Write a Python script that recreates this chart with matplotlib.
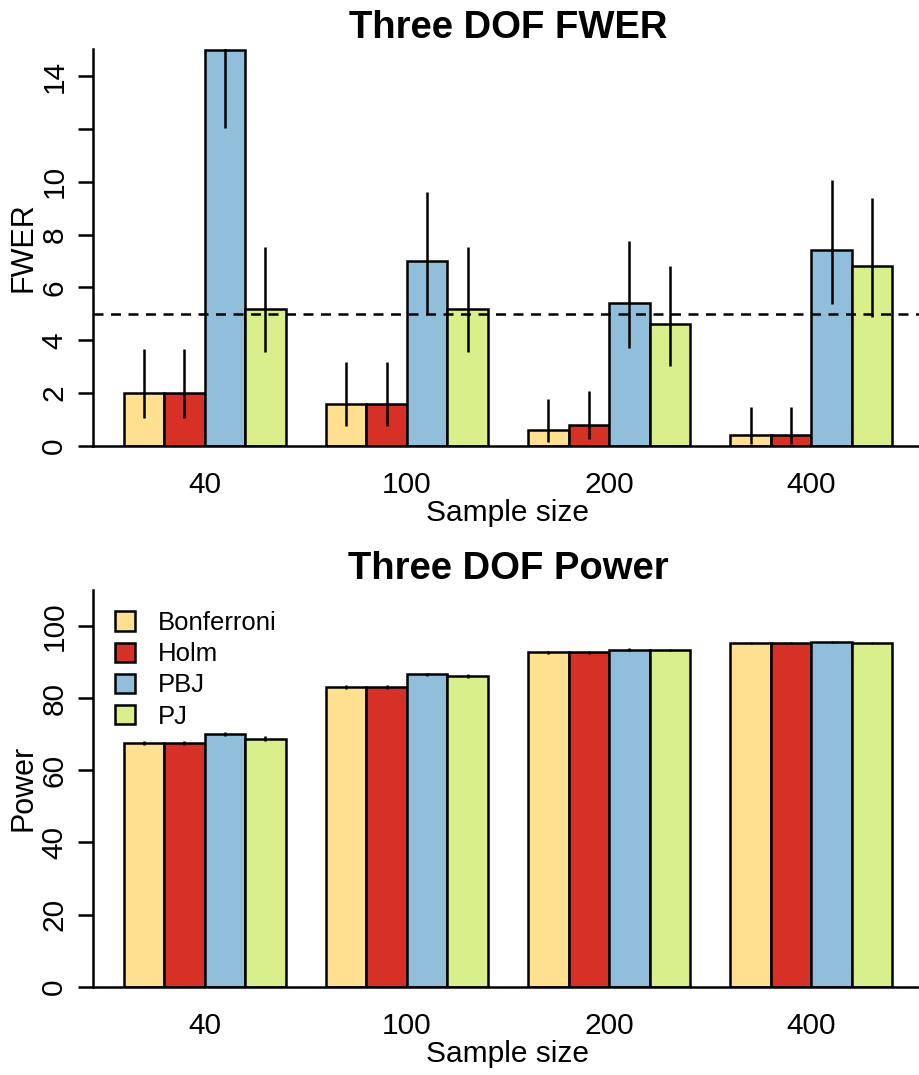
import matplotlib
matplotlib.use("Agg")
import matplotlib.pyplot as plt
from matplotlib.patches import Patch
import numpy as np

plt.rcParams["font.family"] = ["Liberation Sans", "DejaVu Sans"]

# data
sample_sizes = ["40", "100", "200", "400"]
methods = ["Bonferroni", "Holm", "PBJ", "PJ"]
colors = ["#FEE090", "#D73027", "#91BFDB", "#D9EF8B"]

# FWER (%) with confidence interval ends
fwer = {
    "Bonferroni": [2.0, 1.6, 0.6, 0.4],
    "Holm": [2.0, 1.6, 0.8, 0.4],
    "PBJ": [15.0, 7.0, 5.4, 7.4],
    "PJ": [5.2, 5.2, 4.6, 6.8],
}
fwer_lo = {
    "Bonferroni": [1.07, 0.77, 0.16, 0.08],
    "Holm": [1.07, 0.77, 0.26, 0.08],
    "PBJ": [12.05, 4.99, 3.70, 5.37],
    "PJ": [3.54, 3.54, 3.04, 4.87],
}
fwer_hi = {
    "Bonferroni": [3.67, 3.17, 1.78, 1.46],
    "Holm": [3.67, 3.17, 2.07, 1.46],
    "PBJ": [18.4, 9.60, 7.77, 10.05],
    "PJ": [7.53, 7.53, 6.82, 9.37],
}

# Power (%) with small error
power = {
    "Bonferroni": [67.6, 83.1, 92.7, 95.2],
    "Holm": [67.6, 83.1, 92.7, 95.2],
    "PBJ": [70.0, 86.6, 93.5, 95.5],
    "PJ": [68.8, 86.2, 93.3, 95.4],
}
power_err = [0.6, 0.5, 0.35, 0.25]

W, H = 919, 1075
LW = 1.8


def draw_panel(ax, values, lo, hi, ylim, yticks, ylabels, title, ylabel):
    for j, m in enumerate(methods):
        x = np.arange(4) * 5 + j
        ax.bar(x, values[m], width=1, align="edge", color=colors[j],
               edgecolor="black", linewidth=LW, zorder=2)
        ax.vlines(x + 0.5, lo[m], hi[m], color="black", linewidth=LW, zorder=3)
    ax.set_xlim(-0.76, 19.76)
    ax.set_ylim(*ylim)
    ax.spines["top"].set_visible(False)
    ax.spines["right"].set_visible(False)
    ax.spines["left"].set_linewidth(LW)
    ax.spines["bottom"].set_linewidth(LW)
    ax.set_yticks(yticks)
    ax.set_yticklabels(ylabels, rotation=90, va="center", fontsize=21.5)
    ax.tick_params(axis="y", length=10.8, width=LW, pad=7)
    ax.set_xticks(np.arange(4) * 5 + 2)
    ax.set_xticklabels(sample_sizes, fontsize=21.5)
    ax.tick_params(axis="x", length=0, pad=18)
    ax.set_xlabel("Sample size", fontsize=21.5, labelpad=0)
    ax.set_ylabel(ylabel, fontsize=22, labelpad=1)
    ax.set_title(title, fontsize=27.5, fontweight="bold", pad=8)


fig = plt.figure(figsize=(W / 100, H / 100), dpi=100)

ax1 = fig.add_axes([93 / W, (H - 446) / H, 830 / W, 397 / H])
draw_panel(ax1, fwer, fwer_lo, fwer_hi, (0, 15.02),
           [0, 2, 4, 6, 8, 10, 12, 14],
           ["0", "2", "4", "6", "8", "10", "", "14"],
           "Three DOF FWER", "FWER")
ax1.axhline(5, color="black", linewidth=LW, linestyle=(0, (4, 3)), zorder=4)

ax2 = fig.add_axes([93 / W, (H - 986.7) / H, 830 / W, 396.7 / H])
p_lo = {m: [v - e for v, e in zip(power[m], power_err)] for m in methods}
p_hi = {m: [v + e for v, e in zip(power[m], power_err)] for m in methods}
draw_panel(ax2, power, p_lo, p_hi, (0, 110),
           [0, 20, 40, 60, 80, 100],
           ["0", "20", "40", "60", "80", "100"],
           "Three DOF Power", "Power")

handles = [Patch(facecolor=c, edgecolor="black", linewidth=LW) for c in colors]
ax2.legend(handles, methods, loc="upper left", bbox_to_anchor=(0.026, 0.947),
           frameon=False, fontsize=18.5, handlelength=0.78, handleheight=0.78,
           handletextpad=0.9, labelspacing=0.28, borderpad=0, borderaxespad=0)

fig.savefig("out.png", dpi=100)
